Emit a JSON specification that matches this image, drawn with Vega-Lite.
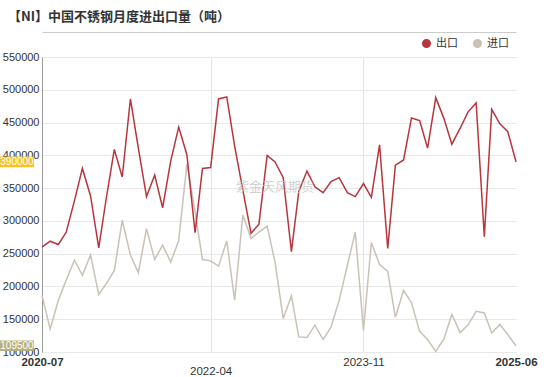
{
  "$schema": "https://vega.github.io/schema/vega-lite/v6.json",
  "width": 474,
  "height": 295,
  "autosize": {"type": "none"},
  "padding": {"left": 42, "top": 57, "right": 34, "bottom": 25},
  "background": "white",
  "title": {"text": "【NI】中国不锈钢月度进出口量（吨）", "anchor": "start", "frame": "group", "dx": -34, "offset": 8, "font": "Noto Sans CJK SC", "fontSize": 13, "fontWeight": "bold", "color": "#333333"},
  "datasets": {
    "trade": [
      {"month": "2020-07-01", "出口": 260000, "进口": 186500},
      {"month": "2020-08-01", "出口": 269000, "进口": 135000},
      {"month": "2020-09-01", "出口": 264000, "进口": 179000},
      {"month": "2020-10-01", "出口": 283000, "进口": 210000},
      {"month": "2020-11-01", "出口": 331000, "进口": 240000},
      {"month": "2020-12-01", "出口": 380000, "进口": 217000},
      {"month": "2021-01-01", "出口": 338000, "进口": 248000},
      {"month": "2021-02-01", "出口": 259000, "进口": 188000},
      {"month": "2021-03-01", "出口": 333000, "进口": 204000},
      {"month": "2021-04-01", "出口": 409000, "进口": 224000},
      {"month": "2021-05-01", "出口": 367000, "进口": 301000},
      {"month": "2021-06-01", "出口": 486000, "进口": 248000},
      {"month": "2021-07-01", "出口": 411000, "进口": 221000},
      {"month": "2021-08-01", "出口": 337000, "进口": 288000},
      {"month": "2021-09-01", "出口": 370000, "进口": 241000},
      {"month": "2021-10-01", "出口": 320000, "进口": 263000},
      {"month": "2021-11-01", "出口": 392000, "进口": 237000},
      {"month": "2021-12-01", "出口": 443000, "进口": 270000},
      {"month": "2022-01-01", "出口": 401000, "进口": 387000},
      {"month": "2022-02-01", "出口": 282000, "进口": 314000},
      {"month": "2022-03-01", "出口": 380000, "进口": 241000},
      {"month": "2022-04-01", "出口": 381500, "进口": 239000},
      {"month": "2022-05-01", "出口": 486000, "进口": 231000},
      {"month": "2022-06-01", "出口": 489000, "进口": 269500},
      {"month": "2022-07-01", "出口": 414000, "进口": 179000},
      {"month": "2022-08-01", "出口": 347000, "进口": 309000},
      {"month": "2022-09-01", "出口": 281000, "进口": 273000},
      {"month": "2022-10-01", "出口": 295000, "进口": 283000},
      {"month": "2022-11-01", "出口": 400000, "进口": 292000},
      {"month": "2022-12-01", "出口": 390000, "进口": 237000},
      {"month": "2023-01-01", "出口": 366000, "进口": 151000},
      {"month": "2023-02-01", "出口": 253000, "进口": 185500},
      {"month": "2023-03-01", "出口": 345000, "进口": 123000},
      {"month": "2023-04-01", "出口": 376000, "进口": 122000},
      {"month": "2023-05-01", "出口": 352000, "进口": 141000},
      {"month": "2023-06-01", "出口": 343000, "进口": 119000},
      {"month": "2023-07-01", "出口": 360000, "进口": 138000},
      {"month": "2023-08-01", "出口": 366000, "进口": 179000},
      {"month": "2023-09-01", "出口": 343000, "进口": 232000},
      {"month": "2023-10-01", "出口": 337000, "进口": 283000},
      {"month": "2023-11-01", "出口": 357000, "进口": 133000},
      {"month": "2023-12-01", "出口": 336000, "进口": 267000},
      {"month": "2024-01-01", "出口": 416000, "进口": 233500},
      {"month": "2024-02-01", "出口": 258000, "进口": 223000},
      {"month": "2024-03-01", "出口": 385000, "进口": 153000},
      {"month": "2024-04-01", "出口": 393000, "进口": 194000},
      {"month": "2024-05-01", "出口": 457000, "进口": 175000},
      {"month": "2024-06-01", "出口": 453000, "进口": 131500},
      {"month": "2024-07-01", "出口": 411000, "进口": 119000},
      {"month": "2024-08-01", "出口": 488000, "进口": 101000},
      {"month": "2024-09-01", "出口": 456000, "进口": 120000},
      {"month": "2024-10-01", "出口": 417000, "进口": 157500},
      {"month": "2024-11-01", "出口": 441000, "进口": 129500},
      {"month": "2024-12-01", "出口": 466000, "进口": 141000},
      {"month": "2025-01-01", "出口": 480000, "进口": 162000},
      {"month": "2025-02-01", "出口": 276000, "进口": 159500},
      {"month": "2025-03-01", "出口": 470000, "进口": 129000},
      {"month": "2025-04-01", "出口": 448000, "进口": 142000},
      {"month": "2025-05-01", "出口": 436000, "进口": 126500},
      {"month": "2025-06-01", "出口": 390000, "进口": 109500}
    ]
  },
  "resolve": {"axis": {"x": "independent"}},
  "layer": [
    {
      "data": {"name": "trade"},
      "transform": [{"fold": ["出口", "进口"], "as": ["key", "value"]}, {"filter": "datum.key == '进口'"}],
      "mark": {"type": "line", "strokeWidth": 1.5},
      "encoding": {
        "x": {
          "field": "month", "type": "temporal",
          "scale": {"type": "utc", "domain": [{"year": 2020, "month": 7, "date": 1, "utc": true}, {"year": 2025, "month": 6, "date": 1, "utc": true}]},
          "axis": {
            "orient": "bottom",
            "title": null,
            "values": [
              {"year": 2020, "month": 7, "date": 1, "utc": true},
              {"year": 2022, "month": 4, "date": 1, "utc": true},
              {"year": 2023, "month": 11, "date": 1, "utc": true},
              {"year": 2025, "month": 6, "date": 1, "utc": true}
            ],
            "labelExpr": "utcFormat(datum.value, '%Y-%m')",
            "domain": false, "ticks": false,
            "labelFlush": false, "labelOverlap": false, "labelBound": false,
            "labelFont": "Liberation Sans", "labelFontSize": 11.5, "labelColor": "#333333",
            "labelFontWeight": {"condition": {"test": "utcyear(datum.value) == 2020 || utcyear(datum.value) == 2025", "value": "bold"}, "value": "normal"},
            "labelPadding": {"condition": {"test": "utcyear(datum.value) == 2022", "value": 13}, "value": 4},
            "grid": true, "gridColor": "#e3e3e3",
            "gridOpacity": {"condition": {"test": "utcyear(datum.value) == 2020 || utcyear(datum.value) == 2025", "value": 0}, "value": 1}
          }
        },
        "y": {
          "field": "value", "type": "quantitative",
          "scale": {"domain": [100000, 550000], "nice": false, "zero": false},
          "axis": {"title": null, "values": [100000, 150000, 200000, 250000, 300000, 350000, 400000, 450000, 500000, 550000], "labelExpr": "format(datum.value, 'd')", "labelFont": "Liberation Sans", "labelFontSize": 11, "labelColor": "#333333", "labelOverlap": false, "labelBound": false, "labelFlush": false, "labelPadding": 3, "ticks": false, "domain": true, "domainColor": "#999999", "grid": true, "gridColor": "#e8e8e8"}
        },
        "color": {
          "field": "key", "type": "nominal",
          "scale": {"domain": ["出口", "进口"], "range": ["#b8353d", "#c9c2b7"]},
          "legend": {
            "orient": "none", "legendX": 379, "legendY": -19, "direction": "horizontal", "title": null,
            "symbolType": "circle", "symbolSize": 20, "symbolStrokeWidth": 4.6, "labelFont": "Noto Sans CJK SC", "labelFontSize": 11,
            "labelColor": "#333333", "columnPadding": 8, "labelOffset": 4
          }
        }
      }
    },
    {
      "data": {"name": "trade"},
      "transform": [{"fold": ["出口", "进口"], "as": ["key", "value"]}, {"filter": "datum.key == '出口'"}],
      "mark": {"type": "line", "strokeWidth": 1.5},
      "encoding": {
        "x": {"field": "month", "type": "temporal", "axis": {"orient": "top", "offset": 25, "labels": false, "ticks": false, "grid": false, "domain": true, "domainColor": "#cccccc", "title": null}},
        "y": {"field": "value", "type": "quantitative", "axis": {"title": null, "values": [100000, 150000, 200000, 250000, 300000, 350000, 400000, 450000, 500000, 550000], "labelExpr": "format(datum.value, 'd')", "labelFont": "Liberation Sans", "labelFontSize": 11, "labelColor": "#333333", "labelOverlap": false, "labelBound": false, "labelFlush": false, "labelPadding": 3, "ticks": false, "domain": true, "domainColor": "#999999", "grid": true, "gridColor": "#e8e8e8"}},
        "color": {"field": "key", "type": "nominal"}
      }
    },
    {
      "data": {"values": [{"label": "紫金天风期货"}]},
      "mark": {"type": "text", "font": "Noto Sans CJK SC", "fontSize": 13, "color": "#c8c8c8", "opacity": 0.8},
      "encoding": {
        "x": {"datum": {"year": 2022, "month": 12, "date": 1, "utc": true}, "type": "temporal", "axis": null},
        "y": {"datum": 352000, "type": "quantitative", "axis": {"title": null, "values": [100000, 150000, 200000, 250000, 300000, 350000, 400000, 450000, 500000, 550000], "labelExpr": "format(datum.value, 'd')", "labelFont": "Liberation Sans", "labelFontSize": 11, "labelColor": "#333333", "labelOverlap": false, "labelBound": false, "labelFlush": false, "labelPadding": 3, "ticks": false, "domain": true, "domainColor": "#999999", "grid": true, "gridColor": "#e8e8e8"}},
        "text": {"field": "label"}
      }
    },
    {
      "data": {"name": "trade"},
      "transform": [{"fold": ["出口", "进口"], "as": ["key", "value"]}, {"filter": "utcyear(datum.month) == 2025 && utcmonth(datum.month) == 5"}],
      "mark": {"type": "point", "shape": "M-1,-0.31H1V0.31H-1Z", "size": 1156, "filled": true, "opacity": 1, "strokeWidth": 0},
      "encoding": {
        "x": {"value": -25},
        "y": {"field": "value", "type": "quantitative", "axis": {"title": null, "values": [100000, 150000, 200000, 250000, 300000, 350000, 400000, 450000, 500000, 550000], "labelExpr": "format(datum.value, 'd')", "labelFont": "Liberation Sans", "labelFontSize": 11, "labelColor": "#333333", "labelOverlap": false, "labelBound": false, "labelFlush": false, "labelPadding": 3, "ticks": false, "domain": true, "domainColor": "#999999", "grid": true, "gridColor": "#e8e8e8"}},
        "fill": {"condition": {"test": "datum.key == '出口'", "value": "#f5c424"}, "value": "#b8af7e"}
      }
    },
    {
      "data": {"name": "trade"},
      "transform": [{"fold": ["出口", "进口"], "as": ["key", "value"]}, {"filter": "utcyear(datum.month) == 2025 && utcmonth(datum.month) == 5"}],
      "mark": {"type": "text", "font": "Liberation Sans", "fontSize": 10, "color": "white", "baseline": "middle", "align": "center"},
      "encoding": {
        "x": {"value": -25},
        "y": {"field": "value", "type": "quantitative", "axis": {"title": null, "values": [100000, 150000, 200000, 250000, 300000, 350000, 400000, 450000, 500000, 550000], "labelExpr": "format(datum.value, 'd')", "labelFont": "Liberation Sans", "labelFontSize": 11, "labelColor": "#333333", "labelOverlap": false, "labelBound": false, "labelFlush": false, "labelPadding": 3, "ticks": false, "domain": true, "domainColor": "#999999", "grid": true, "gridColor": "#e8e8e8"}},
        "text": {"field": "value", "type": "quantitative", "format": "d"}
      }
    }
  ],
  "config": {"view": {"stroke": null}}
}
